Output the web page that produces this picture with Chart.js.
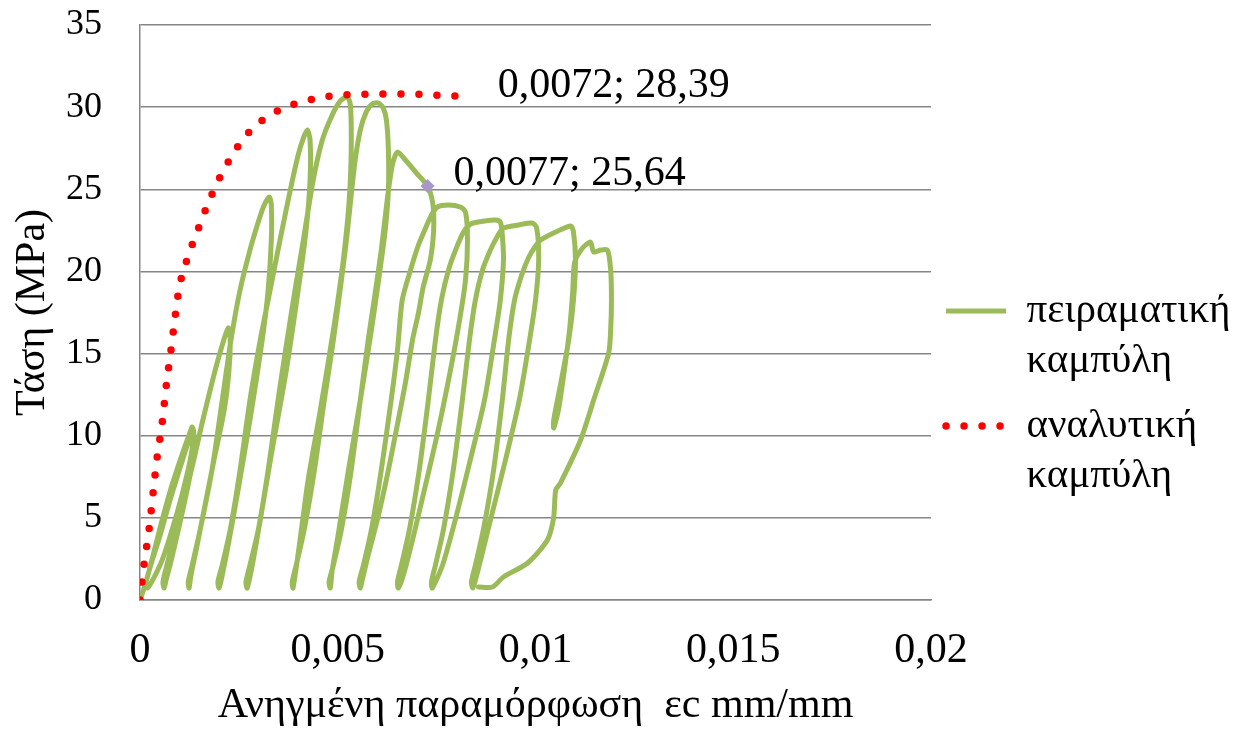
<!DOCTYPE html>
<html><head><meta charset="utf-8">
<script src="https://cdn.jsdelivr.net/npm/chart.js@4.4.1/dist/chart.umd.min.js"></script>
<style>html,body{margin:0;padding:0;background:#fff;}#wrap{width:1249px;height:731px;position:relative;}</style>
</head><body><div id="wrap"><canvas id="c"></canvas></div>
<script>
const xTickLabels = ['0', '0,005', '0,01', '0,015', '0,02'];
const yTickLabels = ['0', '5', '10', '15', '20', '25', '30', '35'];
const seriesNames = [['πειραματική', 'καμπύλη'], ['αναλυτική', 'καμπύλη']];
const xTitle = 'Ανηγμένη παραμόρφωση  εc mm/mm';
const yTitle = 'Τάση (MPa)';
const pointLabels = ['0,0072; 28,39', '0,0077; 25,64'];

// experimental cyclic curve (strain mm/mm), one line per load cycle
const expStrain = [
0,0.00013,0.00030,0.00056,0.00081,0.00106,0.00124,0.00132,0.00134,0.00127,0.00106,0.00081,0.00056,0.00035,0.00023,0.00018,
0.00015,0.00025,0.00051,0.00076,0.00101,0.00122,0.00134,0.00137,0.00129,0.00111,0.00091,0.00076,0.00066,0.00061,
0.00058,0.00068,0.00094,0.00127,0.00159,0.00187,0.00208,0.00223,0.00228,0.00225,0.00213,0.00187,0.00162,0.00142,0.00129,0.00124,
0.00122,0.00132,0.00152,0.00182,0.00208,0.00230,0.00253,0.00278,0.00299,0.00314,0.00327,0.00332,0.00332,0.00324,0.00309,0.00278,0.00248,0.00223,0.00208,0.00200,
0.00197,0.00208,0.00228,0.00253,0.00278,0.00304,0.00324,0.00354,0.00380,0.00400,0.00413,0.00423,0.00430,0.00430,0.00420,0.00400,0.00370,0.00334,0.00304,0.00284,0.00271,
0.00268,0.00278,0.00299,0.00324,0.00349,0.00372,0.00392,0.00413,0.00438,0.00461,0.00486,0.00506,0.00524,0.00532,0.00534,0.00529,0.00514,0.00489,0.00456,0.00425,0.00403,0.00387,
0.00385,0.00395,0.00415,0.00441,0.00466,0.00489,0.00506,0.00522,0.00534,0.00544,0.00557,0.00572,0.00587,0.00603,0.00615,0.00623,0.00628,0.00628,0.00620,0.00605,0.00585,0.00557,0.00527,0.00501,0.00486,0.00481,
0.00478,0.00489,0.00509,0.00534,0.00557,0.00577,0.00592,0.00610,0.00625,0.00638,0.00651,0.00671,0.00699,0.00727,0.00737,0.00742,0.00742,0.00734,0.00716,0.00704,0.00689,0.00671,0.00653,0.00628,0.00603,0.00577,0.00562,0.00557,
0.00554,0.00565,0.00585,0.00610,0.00635,0.00651,0.00663,0.00684,0.00704,0.00722,0.00737,0.00752,0.00780,0.00810,0.00823,0.00828,0.00823,0.00808,0.00785,0.00754,0.00719,0.00689,0.00666,0.00653,
0.00651,0.00661,0.00681,0.00706,0.00729,0.00747,0.00762,0.00780,0.00800,0.00818,0.00833,0.00843,0.00871,0.00899,0.00911,0.00916,0.00919,0.00911,0.00896,0.00871,0.00835,0.00797,0.00765,0.00739,
0.00737,0.00747,0.00767,0.00792,0.00815,0.00833,0.00848,0.00866,0.00886,0.00904,0.00919,0.00957,0.00992,0.01003,0.01008,0.01000,0.00985,0.00959,0.00924,0.00886,0.00861,0.00846,0.00841,
0.00838,0.00848,0.00868,0.00894,0.00916,0.00932,0.00947,0.00965,0.00982,0.01000,0.01013,0.01051,0.01089,0.01096,0.01101,0.01096,0.01084,0.01063,0.01046,0.01046,
0.01058,0.01073,0.01086,0.01094,0.01099,0.01119,0.01139,0.01147,0.01165,0.01182,0.01190,0.01192,0.01190,0.01185,0.01147,0.01114,0.01063,0.01051,0.01046,0.01030,0.00980,0.00919,0.00891,0.00856
];
// experimental cyclic curve (stress MPa), one line per load cycle
const expStress = [
0,0.91,2.43,4.87,7.00,8.83,10.04,10.53,9.74,8.52,6.39,4.26,2.43,1.34,0.85,0.73,
1.03,1.95,3.96,6.09,8.03,9.62,10.47,9.43,7.91,5.78,3.65,2.13,1.22,0.73,
1.10,2.13,4.57,7.61,10.96,13.70,15.52,16.56,15.83,14.00,11.57,8.52,5.48,3.04,1.52,0.73,
1.10,2.13,4.26,7.91,12.17,15.83,18.87,21.30,23.01,24.04,24.53,24.04,21.91,18.87,15.83,10.96,6.70,3.35,1.52,0.73,
1.10,2.13,4.26,7.91,12.17,15.83,18.26,21.91,24.96,27.09,28.12,28.61,28.00,25.57,22.52,18.87,14.00,9.13,4.87,2.13,0.73,
1.10,2.13,4.26,7.91,12.17,15.83,18.87,21.91,25.57,28.00,29.52,30.37,30.62,30.13,27.39,24.35,20.70,16.43,11.57,7.30,3.35,0.73,
1.10,2.13,4.26,7.91,12.17,15.83,18.87,21.91,24.65,26.78,28.61,29.70,30.19,30.25,29.95,29.22,27.39,24.96,22.52,19.78,16.43,12.17,7.91,3.96,1.83,0.73,
1.10,2.13,4.26,7.91,12.17,15.83,18.26,21.30,24.35,26.48,27.27,26.78,25.99,25.20,24.53,23.74,22.34,20.70,19.05,17.47,15.83,13.21,10.96,7.91,5.17,2.74,1.22,0.73,
1.10,2.13,4.26,7.91,12.17,15.22,18.26,20.09,21.61,22.64,23.43,23.92,24.04,23.92,23.62,21.91,19.48,17.04,14.00,10.35,6.70,3.65,1.52,0.73,
1.10,2.13,4.26,7.91,12.17,15.83,18.26,20.09,21.43,22.40,22.83,22.95,23.07,23.13,23.01,22.22,20.70,18.26,15.83,12.17,8.52,4.87,2.13,0.73,
1.10,2.13,4.26,7.91,12.17,15.83,18.26,20.09,21.30,22.16,22.64,22.83,22.95,22.64,20.70,18.26,15.83,12.17,8.52,4.87,2.43,1.03,0.73,
1.10,2.13,4.26,7.91,12.17,15.83,18.26,19.78,20.82,21.55,21.91,22.40,22.77,22.40,20.70,18.26,15.83,13.09,10.96,10.47,
11.57,14.00,16.43,18.75,20.57,21.43,21.79,21.18,21.30,21.30,20.09,18.26,16.43,15.03,12.17,9.74,7.12,6.70,5.05,3.65,2.25,1.40,0.79,0.79
];
// analytical curve
const anaStrain = [0,0.00010,0.00023,0.00033,0.00043,0.00056,0.00066,0.00078,0.00089,0.00099,0.00116,0.00147,0.00180,0.00220,0.00271,0.00342,0.00428,0.00516,0.00658,0.00841];
const anaStress = [0,2.13,4.32,6.51,8.64,10.77,12.97,15.16,17.29,18.99,20.51,22.58,24.59,26.54,28.36,29.70,30.43,30.74,30.80,30.62];
// highlighted point
const markerStrain = [0.00727];
const markerStress = [25.20];

const SERIF = "'Liberation Serif','Times New Roman',serif";
const GREEN = '#9BBB59', RED = '#FF0000', GRID = '#868686', MARK = '#A898C8';

function pts(xs, ys) { return xs.map((x, i) => ({x: x, y: ys[i]})); }

const labelPlugin = {
  id: 'pointLabels',
  afterDatasetsDraw(chart) {
    const ctx = chart.ctx;
    ctx.save();
    ctx.font = '42px ' + SERIF;
    ctx.fillStyle = '#000';
    ctx.textBaseline = 'alphabetic';
    ctx.textAlign = 'left';
    const redMeta = chart.getDatasetMeta(1);
    const last = redMeta.data[redMeta.data.length - 1];
    ctx.fillText(pointLabels[0], last.x + 25, last.y);
    const mk = chart.getDatasetMeta(2).data[0];
    ctx.fillText(pointLabels[1], mk.x + 26, mk.y - 1);
    ctx.restore();
  }
};

new Chart(document.getElementById('c'), {
  type: 'scatter',
  data: {
    datasets: [
      { label: seriesNames[0].join(' '), data: pts(expStrain, expStress), showLine: true,
        borderColor: GREEN, backgroundColor: GREEN, borderWidth: 5, pointRadius: 0, pointHoverRadius: 0,
        tension: 0.25, borderJoinStyle: 'round', borderCapStyle: 'round', order: 2 },
      { label: seriesNames[1].join(' '), data: pts(anaStrain, anaStress), showLine: true,
        borderColor: RED, backgroundColor: RED, borderWidth: 7.5, borderDash: [0, 18], borderCapStyle: 'round',
        pointRadius: 0, pointHoverRadius: 0, cubicInterpolationMode: 'monotone', order: 1 },
      { label: 'point', data: pts(markerStrain, markerStress), showLine: false,
        pointStyle: 'rectRot', pointRadius: 7, pointHoverRadius: 7, backgroundColor: MARK, borderColor: MARK, borderWidth: 0, order: 0 }
    ]
  },
  options: {
    responsive: true, maintainAspectRatio: false, animation: false, devicePixelRatio: 1,
    layout: { padding: { left: 0, right: 8.5, top: 25, bottom: 0 } },
    plugins: {
      tooltip: { enabled: false },
      legend: {
        position: 'right', align: 'center',
        title: { display: true, text: ' ', font: { size: 10, lineHeight: 1 }, padding: { top: 15, bottom: 15 } },
        labels: {
          usePointStyle: true, pointStyleWidth: 60, padding: 15, color: '#000',
          font: { family: SERIF, size: 41, lineHeight: 1.22 },
          generateLabels: () => [
            { text: seriesNames[0], fillStyle: GREEN, strokeStyle: GREEN, lineWidth: 5, lineDash: [], lineCap: 'butt',
              pointStyle: 'line', datasetIndex: 0, hidden: false, fontColor: '#000' },
            { text: seriesNames[1], fillStyle: RED, strokeStyle: RED, lineWidth: 7.5, lineDash: [0, 18], lineCap: 'round',
              pointStyle: 'line', datasetIndex: 1, hidden: false, fontColor: '#000' }
          ]
        }
      }
    },
    scales: {
      x: {
        type: 'linear', min: 0, max: 0.02,
        ticks: { stepSize: 0.005, color: '#000', font: { family: SERIF, size: 42, lineHeight: 1 }, padding: 30,
                 maxRotation: 0, autoSkip: false, callback: (v, i) => xTickLabels[i] },
        grid: { display: false, drawTicks: false },
        border: { display: true, color: GRID, width: 1.5 },
        title: { display: true, text: xTitle, color: '#000', font: { family: SERIF, size: 42, lineHeight: '8.8px' },
                 padding: { top: 0, bottom: 20.6 } },
        afterFit: (s) => { s.height = 131; }
      },
      y: {
        type: 'linear', min: 0, max: 35,
        ticks: { stepSize: 5, color: '#000', font: { family: SERIF, size: 36 }, padding: 38,
                 callback: (v, i) => yTickLabels[i] },
        grid: { color: GRID, lineWidth: 1.5, drawTicks: false },
        border: { display: true, color: GRID, width: 1.5 },
        title: { display: true, text: yTitle, color: '#000', font: { family: SERIF, size: 42, lineHeight: 1 },
                 padding: { top: 12, bottom: 4 } },
        afterFit: (s) => { s.width = 140; s.paddingTop = 0; s.paddingBottom = 0; }
      }
    }
  },
  plugins: [labelPlugin]
});
</script>
</body></html>
